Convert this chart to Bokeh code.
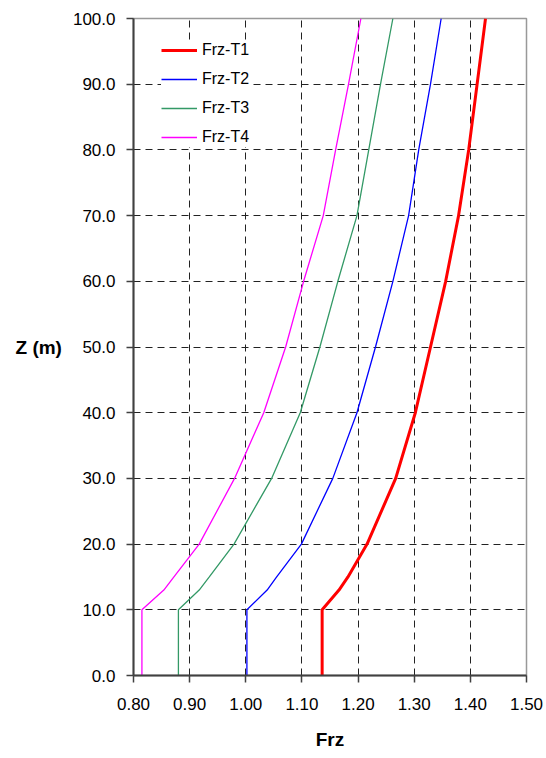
from bokeh.plotting import figure
from bokeh.models import Range1d, FixedTicker, Legend, LegendItem, NumeralTickFormatter
from bokeh.embed import file_html
from bokeh.resources import INLINE

# ---- data ----
z = [0, 10, 13, 15, 20, 30, 40, 50, 60, 70, 80, 90, 100]
frz_t1 = [1.136, 1.136, 1.166, 1.182, 1.216, 1.267, 1.302, 1.329, 1.356, 1.379, 1.397, 1.412, 1.427]
frz_t2 = [1.002, 1.002, 1.038, 1.055, 1.099, 1.155, 1.198, 1.231, 1.262, 1.290, 1.308, 1.329, 1.348]
frz_t3 = [0.880, 0.880, 0.917, 0.935, 0.979, 1.046, 1.097, 1.132, 1.164, 1.198, 1.219, 1.240, 1.262]
frz_t4 = [0.815, 0.815, 0.854, 0.872, 0.917, 0.980, 1.032, 1.071, 1.103, 1.138, 1.160, 1.183, 1.205]
series_names = ["Frz-T1", "Frz-T2", "Frz-T3", "Frz-T4"]
x_ticks = [0.8, 0.9, 1.0, 1.1, 1.2, 1.3, 1.4, 1.5]
y_ticks = [0, 10, 20, 30, 40, 50, 60, 70, 80, 90, 100]

FONT = "Liberation Sans"

p = figure(width=546, height=758, output_backend="svg", toolbar_location=None,
           x_range=Range1d(0.8, 1.5), y_range=Range1d(0, 100),
           min_border_left=133, min_border_right=20, min_border_top=18, min_border_bottom=83)
p.background_fill_color = "white"
p.border_fill_color = "white"
p.outline_line_color = "#999999"
p.outline_line_width = 1.5

# grid
for g in (p.xgrid, p.ygrid):
    g.grid_line_color = "#222222"
    g.grid_line_width = 1
    g.grid_line_dash = "7 5"
p.xgrid.ticker = FixedTicker(ticks=x_ticks)
p.ygrid.ticker = FixedTicker(ticks=y_ticks)

# axes
p.xaxis.ticker = FixedTicker(ticks=x_ticks)
p.yaxis.ticker = FixedTicker(ticks=y_ticks)
p.xaxis.formatter = NumeralTickFormatter(format="0.00")
p.yaxis.formatter = NumeralTickFormatter(format="0.0")
for ax in (p.xaxis[0], p.yaxis[0]):
    ax.axis_line_color = "#404040"
    ax.axis_line_width = 2
    ax.major_tick_line_color = "#404040"
    ax.major_tick_line_width = 1.5
    ax.major_tick_in = 0
    ax.major_tick_out = 7
    ax.minor_tick_line_color = None
    ax.major_label_text_font = FONT
    ax.major_label_text_font_size = "17px"
    ax.major_label_text_color = "#000000"
    ax.axis_label_text_font = FONT
    ax.axis_label_text_font_size = "19px"
    ax.axis_label_text_font_style = "bold"
    ax.axis_label_text_color = "#000000"
p.xaxis.major_label_standoff = 15
p.yaxis.major_label_standoff = 11
p.xaxis.axis_label = "Frz"
p.xaxis.axis_label_standoff = 16
p.yaxis.axis_label = "Z (m)"
p.yaxis.axis_label_orientation = "horizontal"
p.yaxis.axis_label_standoff = 8

colors = ["#FF0000", "#0000FF", "#339966", "#FF00FF"]
widths = [3, 1.3, 1.3, 1.3]
items = []
for name, vals, c, w in zip(series_names, [frz_t1, frz_t2, frz_t3, frz_t4], colors, widths):
    r = p.line(vals, z, line_color=c, line_width=w)
    items.append(LegendItem(label=name, renderers=[r]))

legend = Legend(items=items, location=(28, 528))
legend.background_fill_color = "white"
legend.background_fill_alpha = 1.0
legend.border_line_color = None
legend.label_text_font = FONT
legend.label_text_font_size = "16px"
legend.label_text_color = "#000000"
legend.glyph_width = 36
legend.glyph_height = 20
legend.label_height = 20
legend.label_standoff = 5
legend.spacing = 9
legend.padding = 6
legend.margin = 0
p.add_layout(legend)

open("out.html", "w").write(file_html(p, INLINE))
